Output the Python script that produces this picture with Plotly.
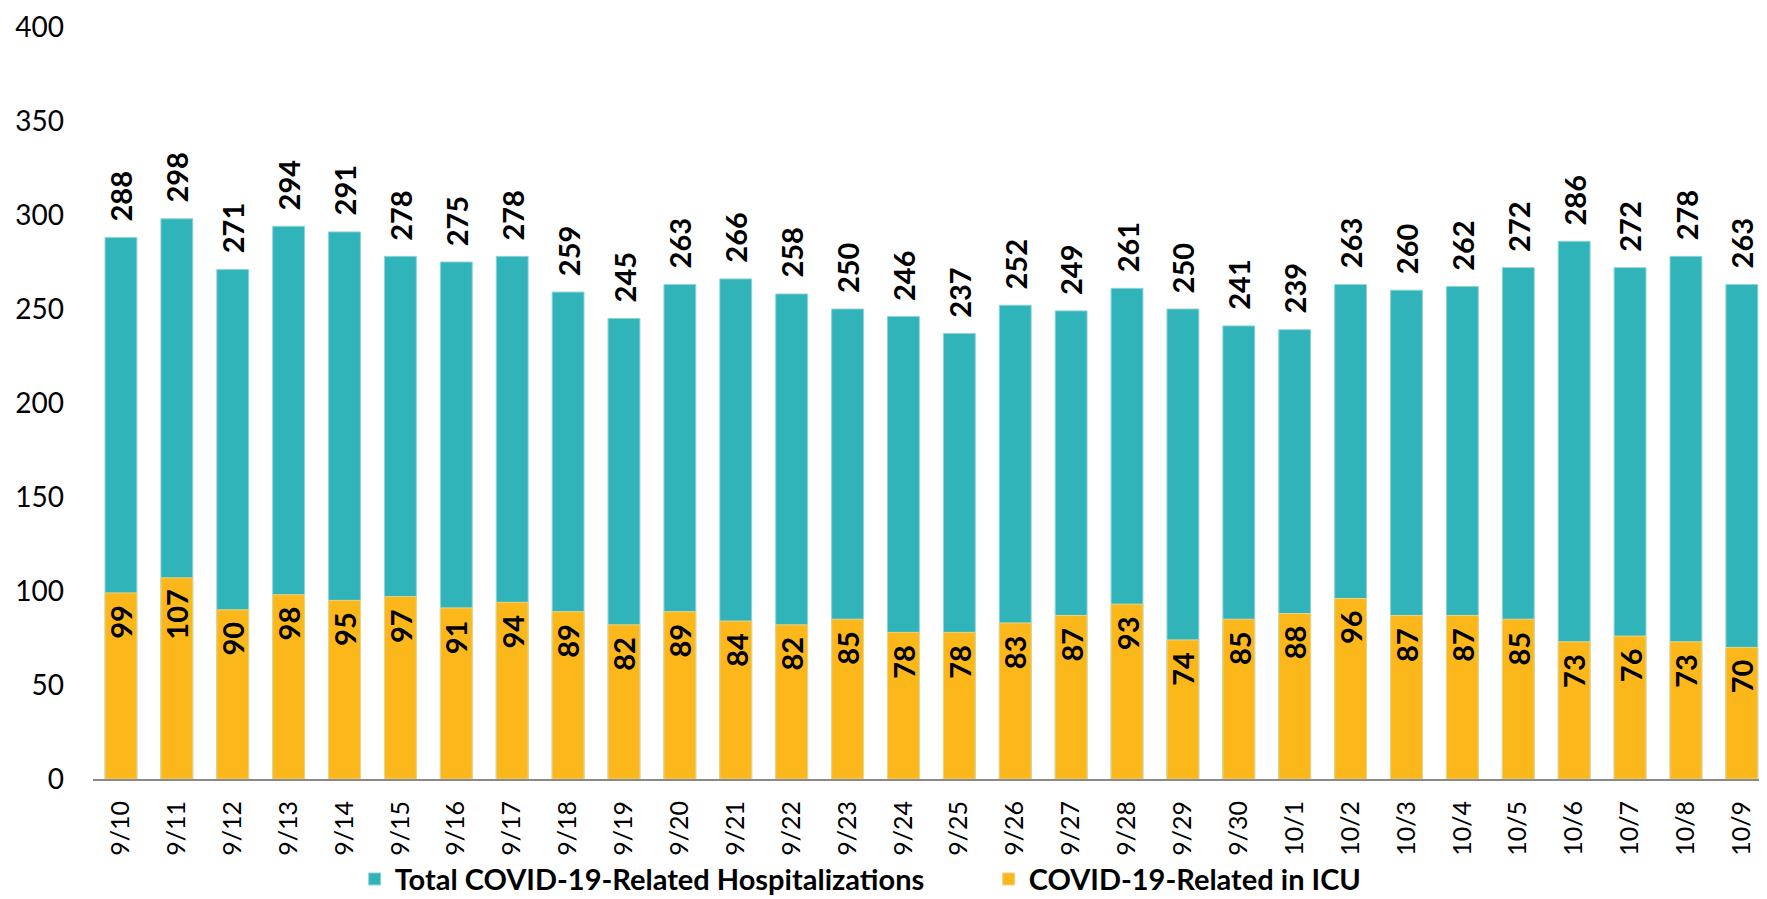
import plotly.graph_objects as go

dates = ["9/10","9/11","9/12","9/13","9/14","9/15","9/16","9/17","9/18","9/19","9/20","9/21","9/22","9/23","9/24","9/25","9/26","9/27","9/28","9/29","9/30",
         "10/1","10/2","10/3","10/4","10/5","10/6","10/7","10/8","10/9"]
total_hosp = [288,298,271,294,291,278,275,278,259,245,263,266,258,250,246,237,252,249,261,250,241,239,263,260,262,272,286,272,278,263]
icu = [99,107,90,98,95,97,91,94,89,82,89,84,82,85,78,78,83,87,93,74,85,88,96,87,87,85,73,76,73,70]

TEAL = "#31B3BA"
GOLD = "#FCB71B"
FONT = "Lato"

fig = go.Figure()
fig.add_trace(go.Bar(x=dates, y=total_hosp, name="Total COVID-19-Related Hospitalizations",
                     marker=dict(color=TEAL, line=dict(color="#8FD3D6", width=1)), width=0.57))
fig.add_trace(go.Bar(x=dates, y=icu, name="COVID-19-Related in ICU",
                     marker=dict(color=GOLD, line=dict(color="#E8D58A", width=1)), width=0.57))

annotations = []
for d, t in zip(dates, total_hosp):
    annotations.append(dict(x=d, y=t, xref="x", yref="y", text=str(t), showarrow=False,
                            textangle=-90, yanchor="bottom", xanchor="center", yshift=14,
                            font=dict(family=FONT, size=29, color="#000000", weight="bold")))
for d, v in zip(dates, icu):
    annotations.append(dict(x=d, y=v, xref="x", yref="y", text=str(v), showarrow=False,
                            textangle=-90, yanchor="top", xanchor="center", yshift=-10,
                            font=dict(family=FONT, size=29, color="#000000", weight="bold")))

fig.update_layout(
    barmode="overlay",
    width=1767, height=899,
    margin=dict(l=85, r=8, t=19, b=128, autoexpand=False),
    plot_bgcolor="white", paper_bgcolor="white",
    font=dict(family=FONT, color="#000000"),
    annotations=annotations,
    showlegend=True,
    legend=dict(orientation="h", xref="container", yref="container", x=0.1962, y=0.031,
                xanchor="left", yanchor="middle", itemwidth=30, entrywidth=589,
                bgcolor="rgba(0,0,0,0)",
                font=dict(family=FONT, size=29, color="#000000", weight="bold"),
                traceorder="normal"),
    xaxis=dict(type="category", range=[-0.5, 29.45], tickangle=-90, showgrid=False,
               showline=True, linecolor="#898989", linewidth=2, ticks="", ticklabelstandoff=10,
               automargin=False, tickfont=dict(family=FONT, size=25, color="#000000")),
    yaxis=dict(range=[0, 400], dtick=50, showgrid=False, zeroline=False, showline=False,
               ticks="", tickfont=dict(family=FONT, size=28, color="#000000"), ticklabelstandoff=28,
               ticklabeloverflow="allow", automargin=False),
)

fig.write_html("out.html")
